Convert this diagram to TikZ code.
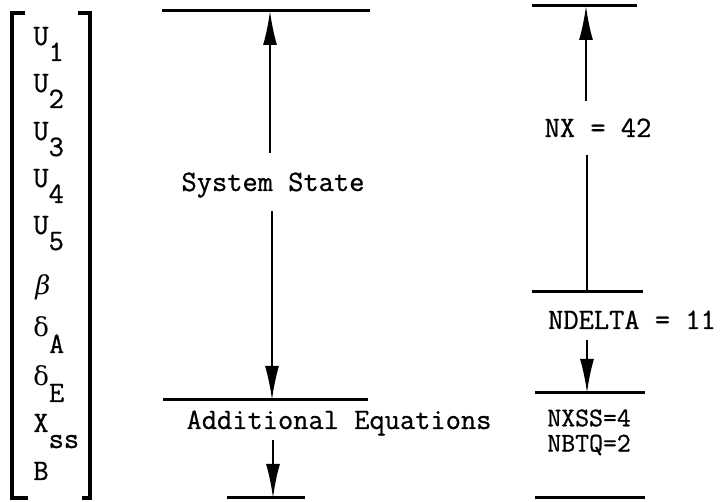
\documentclass[tikz,border=0pt]{standalone}
\usepackage{fontspec}
\newfontfamily\gk{DejaVu Serif}
\newfontfamily\tw[FakeBold=0.8]{Latin Modern Mono}
\usetikzlibrary{arrows.meta}
\newcommand{\lo}[1]{\raisebox{-8pt}{#1}}
\tikzset{
	bar/.style={black,solid,line width=1.5pt},
	brk/.style={black,solid,line width=2pt},
	arr/.style={black,solid,line width=1pt,-{Latex[length=17pt,width=7pt]}},
	stem/.style={black,solid,line width=1pt},
	lbl/.style={font=\tw\fontsize{14.8}{17}\selectfont,text height=9pt,text depth=0pt,inner xsep=0pt,inner ysep=9pt},
	ent/.style={font=\tw\fontsize{14.8}{17}\selectfont,anchor=base west,inner sep=0pt},
	cnt/.style={font=\tw\fontsize{13.5}{15}\selectfont,anchor=west,inner sep=0pt},
}

\begin{document}
\begin{tikzpicture}[x=0.5pt,y=-0.5pt]
	\useasboundingbox (0,0) rectangle (724,502);
	% state vector
	\draw[brk] (25,13)--(12,13)--(12,498)--(28,498);
	\draw[brk] (78,13)--(90,13)--(90,498)--(82,498);
	\node[ent] (u1) at (33,45) {U\lo{1}};
	\node[ent] (u2) at (33,92) {U\lo{2}};
	\node[ent] (u3) at (33,140) {U\lo{3}};
	\node[ent] (u4) at (33,187) {U\lo{4}};
	\node[ent] (u5) at (33,234) {U\lo{5}};
	\node[ent] (beta) at (35,295) {{\gk\itshape\fontsize{13}{15}\selectfont β}};
	\node[ent] (da) at (33,337) {{\gk\fontsize{13}{15}\selectfont δ}\lo{A}};
	\node[ent] (de) at (33,386) {{\gk\fontsize{13}{15}\selectfont δ}\lo{E}};
	\node[ent] (xss) at (33,432) {X\lo{ss}};
	\node[ent] (b) at (33,480) {B};
	% middle column
	\draw[bar] (162,11)--(370,11);
	\draw[bar] (163,400)--(368,400);
	\draw[bar] (227,498)--(305,498);
	\coordinate (sTop) at (270,11);
	\coordinate (sMid) at (272,400);
	\coordinate (sBot) at (273,498);
	\node[lbl,inner ysep=10pt] (ss) at (273,182) {System State};
	\node[lbl,inner ysep=5.5pt] (ae) at (339,420) {Additional Equations};
	\draw[arr] (ss.north -| sTop)--(sTop);
	\draw[arr] (ss.south -| sMid)--(sMid);
	\draw[arr] (ae.south -| sBot)--(sBot);
	% right column
	\draw[bar] (532,6)--(637,6);
	\draw[bar] (532,292)--(643,292);
	\draw[bar] (535,393)--(645,393);
	\draw[bar] (535,498)--(645,498);
	\coordinate (rTop) at (586,6);
	\coordinate (rMid) at (587,292);
	\coordinate (rLow) at (587,393);
	\node[lbl] (nx) at (598,128) {NX = 42};
	\node[lbl,inner ysep=5.5pt] (nd) at (632,320) {NDELTA = 11};
	\node[cnt] (nxss) at (547,418) {NXSS=4};
	\node[cnt] (nbtq) at (547,445) {NBTQ=2};
	\draw[arr] (nx.north -| rTop)--(rTop);
	\draw[stem] (nx.south -| rMid)--(rMid);
	\draw[arr] (nd.south -| rLow)--(rLow);
\end{tikzpicture}
\end{document}
